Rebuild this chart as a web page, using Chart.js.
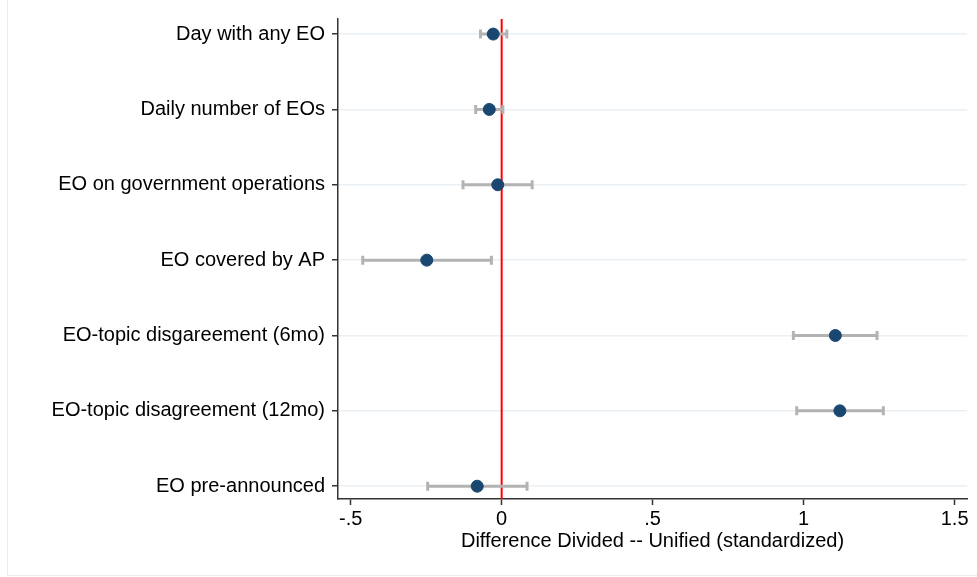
<!DOCTYPE html>
<html>
<head>
<meta charset="utf-8">
<script src="https://cdn.jsdelivr.net/npm/chart.js@4.4.1/dist/chart.umd.min.js"></script>
<style>
    html, body { margin: 0; padding: 0; background: #fff; }
    #wrap { position: relative; width: 977px; height: 577px; }
    #frame {
        position: absolute; left: 7px; top: 0; width: 975px; height: 576px;
        border-left: 1px solid #ebebeb; border-bottom: 1px solid #ebebeb;
        box-sizing: border-box; pointer-events: none;
    }
    canvas { position: absolute; left: 0; top: 0; }
</style>
</head>
<body>
<div id="wrap">
    <canvas id="coefChart" width="977" height="577"></canvas>
    <div id="frame"></div>
</div>
<script>
// Coefficient plot: Divided vs Unified government, standardized differences
const categories = [
    'Day with any EO',
    'Daily number of EOs',
    'EO on government operations',
    'EO covered by AP',
    'EO-topic disgareement (6mo)',
    'EO-topic disagreement (12mo)',
    'EO pre-announced'
];
const estimates = [-0.028, -0.041, -0.013, -0.248, 1.105, 1.120, -0.081];
const ciLow     = [-0.070, -0.086, -0.128, -0.460, 0.966, 0.977, -0.245];
const ciHigh    = [0.017, 0.004, 0.101, -0.034, 1.243, 1.264, 0.084];
const xTicks = [-0.5, 0, 0.5, 1, 1.5];
const xTickLabels = ['-.5', '0', '.5', '1', '1.5'];

const FONT = { family: 'Arial, "Liberation Sans", sans-serif', size: 20 };

// error bars with caps + reference line at zero
const coefDecor = {
    id: 'coefDecor',
    beforeDatasetsDraw(chart) {
        const { ctx, chartArea, scales: { x, y } } = chart;
        ctx.save();
        // red line at 0
        const x0 = x.getPixelForValue(0);
        ctx.strokeStyle = '#ff0000';
        ctx.lineWidth = 2;
        ctx.beginPath();
        ctx.moveTo(x0, chartArea.top);
        ctx.lineTo(x0, chartArea.bottom);
        ctx.stroke();

        ctx.strokeStyle = '#b3b3b3';
        ctx.lineWidth = 3;
        categories.forEach((_, i) => {
            const py = y.getPixelForValue(i);
            const a = x.getPixelForValue(ciLow[i]);
            const b = x.getPixelForValue(ciHigh[i]);
            ctx.beginPath();
            ctx.moveTo(a, py);
            ctx.lineTo(b, py);
            ctx.moveTo(a, py - 4.5);
            ctx.lineTo(a, py + 4.5);
            ctx.moveTo(b, py - 4.5);
            ctx.lineTo(b, py + 4.5);
            ctx.stroke();
        });
        ctx.restore();
    }
};

new Chart(document.getElementById('coefChart'), {
    type: 'scatter',
    data: {
        datasets: [{
            data: estimates.map((v, i) => ({ x: v, y: i })),
            backgroundColor: '#1a476f',
            borderColor: '#1a476f',
            pointRadius: 6,
            pointHoverRadius: 6
        }]
    },
    options: {
        responsive: false,
        animation: false,
        layout: { padding: { top: 18, right: 10, left: 0, bottom: 20 } },
        plugins: {
            legend: { display: false },
            tooltip: { enabled: false }
        },
        scales: {
            x: {
                type: 'linear',
                min: -0.542,
                max: 1.541,
                afterBuildTicks: (scale) => { scale.ticks = xTicks.map(v => ({ value: v })); },
                afterFit: (scale) => { scale.height = 58; },
                ticks: {
                    color: '#000',
                    font: FONT,
                    padding: 2,
                    maxRotation: 0,
                    autoSkip: false,
                    callback: (v) => xTickLabels[xTicks.indexOf(v)]
                },
                grid: {
                    drawOnChartArea: false,
                    tickColor: '#333',
                    tickLength: 6,
                    tickWidth: 1.5
                },
                border: { color: '#333', width: 1.5 },
                title: {
                    display: true,
                    text: 'Difference Divided -- Unified (standardized)',
                    color: '#000',
                    font: FONT,
                    padding: { top: 0 }
                }
            },
            y: {
                type: 'linear',
                reverse: true,
                min: -0.2,
                max: 6.17,
                afterBuildTicks: (scale) => { scale.ticks = categories.map((_, i) => ({ value: i })); },
                afterFit: (scale) => { scale.width = 338; },
                ticks: {
                    color: '#000',
                    font: FONT,
                    padding: 7,
                    autoSkip: false,
                    callback: (v) => categories[v]
                },
                grid: {
                    color: '#eaf0f3',
                    lineWidth: 1.5,
                    tickColor: '#333',
                    tickLength: 6,
                    tickWidth: 1.5
                },
                border: { color: '#333', width: 1.5 }
            }
        }
    },
    plugins: [coefDecor]
});
</script>
</body>
</html>
